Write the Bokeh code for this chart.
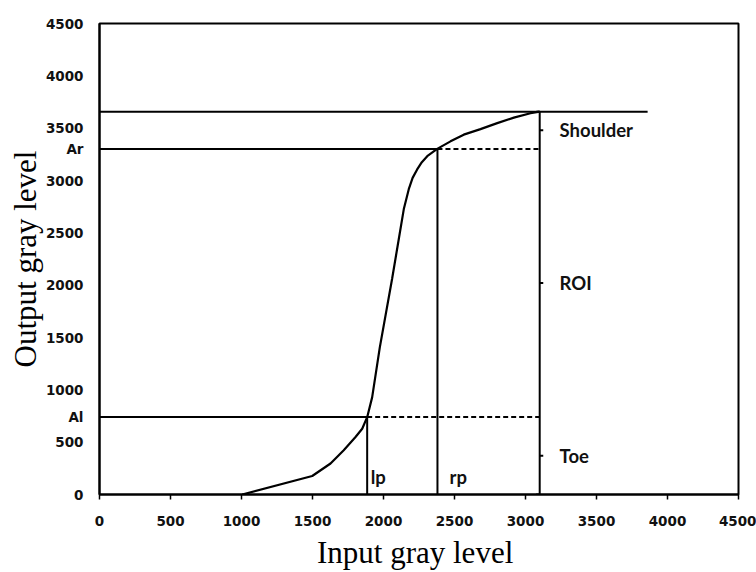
from bokeh.plotting import figure
from bokeh.models import FixedTicker
from bokeh.core.properties import value
from bokeh.embed import file_html
from bokeh.resources import INLINE

# ---- data ----
curve_x = [1005, 1498, 1627, 1720, 1803, 1850, 1885, 1920, 1974, 2061, 2108,
           2143, 2178, 2205, 2237, 2270, 2308, 2378, 2472, 2565, 2683, 2801,
           2918, 3035, 3100]
curve_y = [0, 177, 296, 423, 549, 628, 739, 928, 1406, 2064, 2443,
           2727, 2917, 3025, 3106, 3175, 3232, 3302, 3374, 3438, 3491, 3548,
           3601, 3643, 3658]

x_ticks = [0, 500, 1000, 1500, 2000, 2500, 3000, 3500, 4000, 4500]
y_ticks = [0, 500, 1000, 1500, 2000, 2500, 3000, 3500, 4000, 4500]

level_top = 3658      # top (saturation) level
level_ar = 3300       # Ar
level_al = 740        # Al
x_lp = 1885           # lp
x_rp = 2380           # rp
x_bracket = 3100      # right bracket
x_top_end = 3860      # end of top horizontal line
region_names = ["Toe", "ROI", "Shoulder"]
level_names = ["Al", "Ar"]
point_names = ["lp", "rp"]

BLACK = "#000000"

p = figure(width=756, height=572, x_range=(0, 4500), y_range=(0, 4500),
           output_backend="svg", toolbar_location=None,
           min_border_left=99, min_border_right=18,
           min_border_top=23, min_border_bottom=74)
p.background_fill_color = "white"
p.border_fill_color = "white"
p.outline_line_color = BLACK
p.outline_line_width = 2
p.xgrid.visible = False
p.ygrid.visible = False

tick_font = "DejaVu Sans"
for ax in (p.xaxis[0], p.yaxis[0]):
    ax.axis_line_color = BLACK
    ax.axis_line_width = 2
    ax.major_tick_line_color = BLACK
    ax.major_tick_line_width = 1.5
    ax.major_tick_in = 0
    ax.minor_tick_line_color = None
    ax.major_label_text_font = tick_font
    ax.major_label_text_font_style = "bold"
    ax.major_label_text_font_size = "13.5px"
    ax.major_label_text_color = "#111111"
    ax.axis_label_text_font = "Liberation Serif"
    ax.axis_label_text_font_style = "normal"
    ax.axis_label_text_font_size = "31px"
    ax.axis_label_text_color = BLACK

p.xaxis.ticker = FixedTicker(ticks=x_ticks)
p.yaxis.ticker = FixedTicker(ticks=y_ticks + [level_al, level_ar])
p.yaxis.major_label_overrides = {level_al: level_names[0],
                                 level_ar: level_names[1]}
p.xaxis.major_tick_out = 5
p.xaxis.major_label_standoff = 16
p.yaxis.major_tick_out = 0
p.yaxis.major_label_standoff = 16
p.xaxis.axis_label = "Input  gray level"
p.yaxis.axis_label = "Output gray level"
p.xaxis.axis_label_standoff = 6
p.yaxis.axis_label_standoff = 0

# ---- reference lines ----
lw = 2
p.line([0, x_top_end], [level_top, level_top], line_color=BLACK, line_width=lw)
p.line([0, x_rp], [level_ar, level_ar], line_color=BLACK, line_width=lw)
p.line([x_rp, x_bracket], [level_ar, level_ar], line_color=BLACK,
       line_width=lw, line_dash="5 3")
p.line([0, x_lp], [level_al, level_al], line_color=BLACK, line_width=lw)
p.line([x_lp, x_bracket], [level_al, level_al], line_color=BLACK,
       line_width=lw, line_dash="5 3")
p.line([x_lp, x_lp], [0, level_al], line_color=BLACK, line_width=lw)
p.line([x_rp, x_rp], [0, level_ar], line_color=BLACK, line_width=lw)
# right bracket
p.line([x_bracket, x_bracket], [0, level_top], line_color=BLACK, line_width=lw)
tick_len = 25
p.segment(x0=[x_bracket - tick_len, x_bracket - tick_len],
          y0=[0, level_top], x1=[x_bracket, x_bracket], y1=[0, level_top],
          line_color=BLACK, line_width=lw)
mids = [level_al / 2, (level_al + level_ar) / 2, (level_ar + level_top) / 2]
p.segment(x0=[x_bracket] * 3, y0=mids, x1=[x_bracket + tick_len] * 3, y1=mids,
          line_color=BLACK, line_width=lw)

# ---- curve ----
p.line(curve_x, curve_y, line_color=BLACK, line_width=2.2)

# ---- annotation texts ----
p.text(x=[x_bracket + 140] * 3, y=mids, text=region_names,
       text_font=value("Lato"), text_font_style="bold",
       text_font_size="18.5px", text_color="#111111",
       text_align="left", text_baseline="middle")
p.text(x=[x_lp + 25, x_rp + 85], y=[170, 170], text=point_names,
       text_font=value("Lato"), text_font_style="bold",
       text_font_size="18.5px", text_color="#111111",
       text_align="left", text_baseline="alphabetic")

open("out.html", "w").write(file_html(p, INLINE))
